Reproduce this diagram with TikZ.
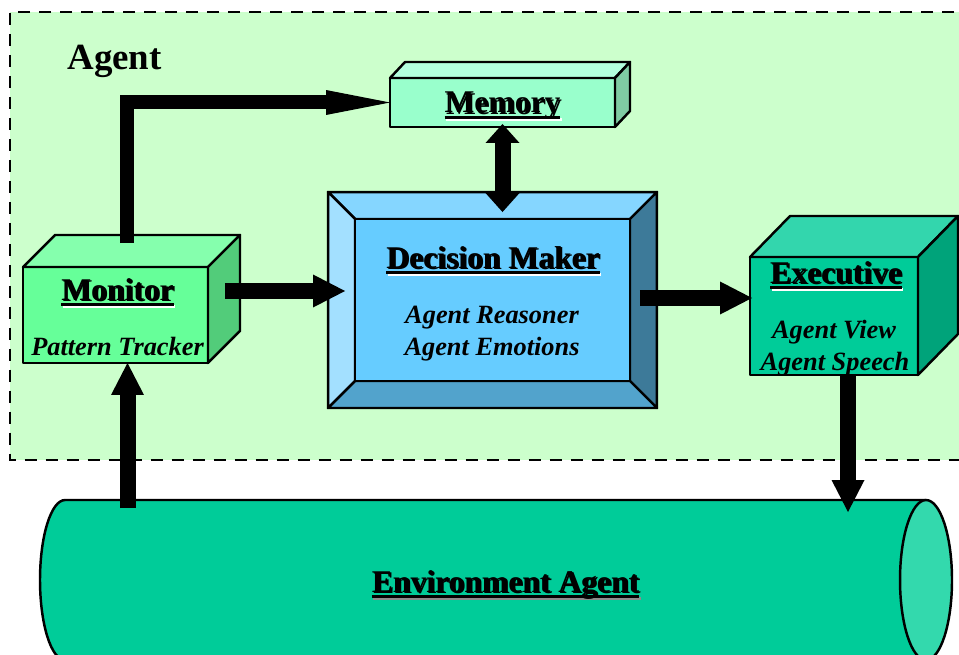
\documentclass[tikz,border=0pt]{standalone}
\usepackage{fontspec}
\setmainfont{Liberation Serif}
\usetikzlibrary{arrows.meta}
\usetikzlibrary{calc}

\newsavebox{\ulholder}
% bold title, thick underline, soft shadow
\newcommand{\ulbold}[2][white]{\sbox{\ulholder}{#2}%
  \rlap{\hspace{0.9pt}\raisebox{-0.9pt}{\color{#1}\rlap{\usebox{\ulholder}}\rule[-3.4pt]{\wd\ulholder}{1.6pt}}}%
  \rlap{\usebox{\ulholder}}\rule[-3.4pt]{\wd\ulholder}{1.6pt}}

\definecolor{agentbg}{HTML}{CCFFCC}
\definecolor{memfront}{HTML}{99FFCC}
\definecolor{memtop}{HTML}{B3FFDD}
\definecolor{memside}{HTML}{7FCCA3}
\definecolor{monfront}{HTML}{66FF99}
\definecolor{montop}{HTML}{85FFAD}
\definecolor{monside}{HTML}{52CC7A}
\definecolor{dmcore}{HTML}{66CCFF}
\definecolor{dmtop}{HTML}{85D6FF}
\definecolor{dmleft}{HTML}{A3E0FF}
\definecolor{dmright}{HTML}{3D7A99}
\definecolor{dmbottom}{HTML}{52A3CC}
\definecolor{exfront}{HTML}{00CC99}
\definecolor{extop}{HTML}{33D6AD}
\definecolor{exside}{HTML}{00A37A}
\definecolor{envbody}{HTML}{00CC99}
\definecolor{envcap}{HTML}{33D9AD}
\definecolor{envshade}{HTML}{8C8C8C}

\begin{document}
\begin{tikzpicture}[x=0.02cm, y=-0.02cm,
    face/.style={draw, line width=1.4pt, line join=round, inner sep=0pt, outer sep=0pt},
    edgeline/.style={draw, line width=1.4pt, line join=round},
    title/.style={font=\fontsize{18}{20}\selectfont\bfseries, anchor=base, inner sep=0pt},
    sub/.style={font=\fontsize{15}{17}\selectfont\bfseries\itshape, anchor=base, inner sep=0pt},
    fatarrow/.style={line width=0.32cm, line join=miter, -{Triangle[length=0.64cm, width=0.66cm, line width=0pt]}}]

    \useasboundingbox (0,0) rectangle (959,655);

    % agent area
    \fill[agentbg] (10,12) rectangle (975,460);
    \draw[dash pattern=on 0.24cm off 0.18cm, line width=1.5pt] (975,12) -- (10,12) -- (10,460) -- (975,460);
    \node[font=\fontsize{21}{24}\selectfont\bfseries, anchor=base, inner sep=0pt] (agenttitle) at (114.5,70) {Agent};

    % memory
    \node[face, fill=memfront, minimum width=4.5cm, minimum height=0.98cm] (memory) at (502.5,102.5) {};
    \path[edgeline, fill=memtop] (memory.north west) -- ++(15,-16) -- ($(memory.north east)+(15,-16)$) -- (memory.north east) -- cycle;
    \path[edgeline, fill=memside] (memory.north east) -- ++(15,-16) -- ($(memory.south east)+(15,-16)$) -- (memory.south east) -- cycle;
    \node[title] (memorytext) at (502.5,113) {\ulbold{Memory}};

    % monitor
    \node[face, fill=monfront, minimum width=3.7cm, minimum height=1.92cm] (monitor) at (115.5,315) {};
    \path[edgeline, fill=montop] (monitor.north west) -- ++(32,-32) -- ($(monitor.north east)+(32,-32)$) -- (monitor.north east) -- cycle;
    \path[edgeline, fill=monside] (monitor.north east) -- ++(32,-32) -- ($(monitor.south east)+(32,-32)$) -- (monitor.south east) -- cycle;
    \node[title] (monitortext) at (117.5,300) {\ulbold{Monitor}};
    \node[sub] (trackertext) at (117.5,355) {Pattern Tracker};
    \coordinate (monout) at ($(monitor.north)+(11.5,-24)$);

    % decision maker
    \node[face, fill=dmbottom, minimum width=6.58cm, minimum height=4.32cm] (decision) at (492.5,300) {};
    \coordinate (dmnw) at ($(decision.north west)+(27,27)$);
    \coordinate (dmne) at ($(decision.north east)+(-27,27)$);
    \coordinate (dmsw) at ($(decision.south west)+(27,-27)$);
    \coordinate (dmse) at ($(decision.south east)+(-27,-27)$);
    \path[edgeline, fill=dmtop] (decision.north west) -- (decision.north east) -- (dmne) -- (dmnw) -- cycle;
    \path[edgeline, fill=dmleft] (decision.north west) -- (dmnw) -- (dmsw) -- (decision.south west) -- cycle;
    \path[edgeline, fill=dmright] (decision.north east) -- (dmne) -- (dmse) -- (decision.south east) -- cycle;
    \path[edgeline, fill=dmbottom] (decision.south west) -- (dmsw) -- (dmse) -- (decision.south east) -- cycle;
    \node[face, fill=dmcore, minimum width=5.5cm, minimum height=3.24cm] (dmcorebox) at (decision.center) {};
    \node[title] (decisiontext) at (493,268) {\ulbold{Decision Maker}};
    \node[sub] (reasonertext) at (492,323) {Agent Reasoner};
    \node[sub] (emotionstext) at (492,355) {Agent Emotions};

    % executive
    \node[face, fill=exfront, minimum width=3.36cm, minimum height=2.36cm] (exec) at (834,316) {};
    \path[edgeline, fill=extop] (exec.north west) -- ++(40,-41) -- ($(exec.north east)+(40,-41)$) -- (exec.north east) -- cycle;
    \path[edgeline, fill=exside] (exec.north east) -- ++(40,-41) -- ($(exec.south east)+(40,-41)$) -- (exec.south east) -- cycle;
    \node[title] (exectext) at (836,283) {\ulbold{Executive}};
    \node[sub] (viewtext) at (834,338) {Agent View};
    \node[sub] (speechtext) at (835,370) {Agent Speech};

    % environment (drum lying on its side)
    \coordinate (envleft) at (65,580);
    \coordinate (envright) at (926,580);
    \coordinate (envtop) at (65,500);
    \path[edgeline, fill=envbody] (envtop) -- (envtop -| envright) -- ++(0,160) -- ($(envleft)+(0,80)$)
        arc (270:90:0.5cm and 1.6cm) -- cycle;
    \path[edgeline, fill=envcap] (envright) ellipse (0.52cm and 1.6cm);
    \node[title] (envtext) at (505.5,592) {\ulbold[envshade]{Environment Agent}};

    % arrows
    \draw[fatarrow, line width=0.28cm, -{Triangle[length=1.28cm, width=0.5cm, line width=0pt]}] (monout) |- (memory.west);
    \draw[fatarrow, {Triangle[length=0.38cm, width=0.68cm, line width=0pt]}-{Triangle[length=0.38cm, width=0.68cm, line width=0pt]}]
        ($(memory.south)+(0,-3)$) -- ($(memory.south |- decision.north)+(0,20)$);
    \draw[fatarrow] ($(monitor.east)+(17,-24)$) -- ($(decision.west)+(17,-9)$);
    \draw[fatarrow] ($(decision.east)+(-17,-2)$) -- ($(exec.west)+(2,-18)$);
    \draw[fatarrow] ($(exec.south)+(14,0)$) -- ($(exec.south |- envtop)+(14,12)$);
    \draw[fatarrow] ($(monitor.south |- envtop)+(12,8)$) -- ($(monitor.south)+(12,0)$);
\end{tikzpicture}
\end{document}
